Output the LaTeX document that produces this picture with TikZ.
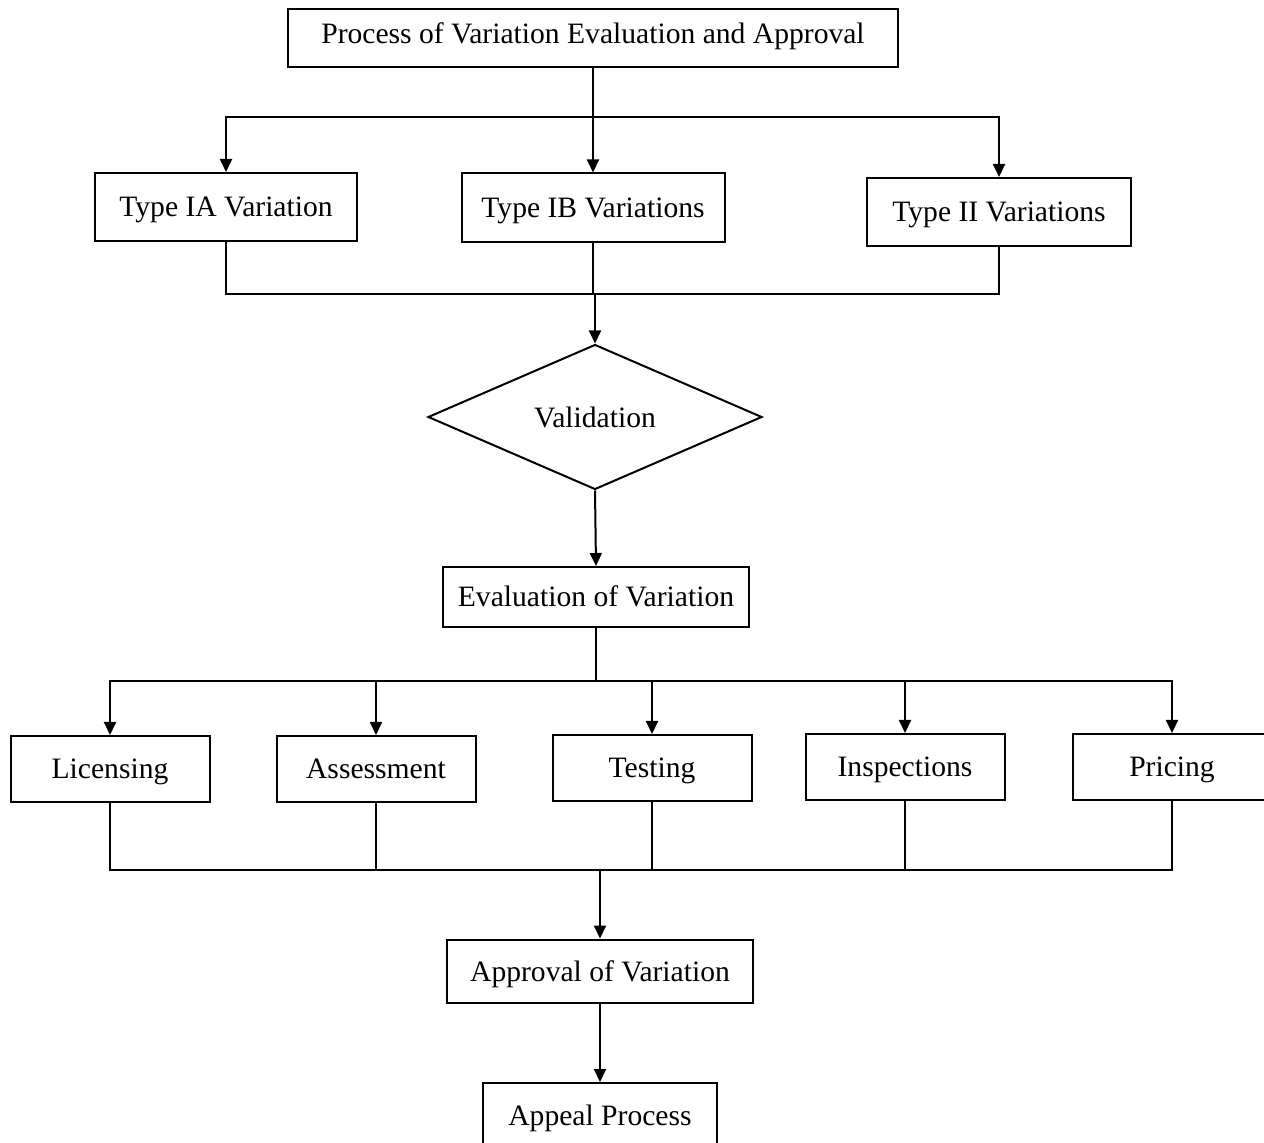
\documentclass[tikz,border=0pt]{standalone}
\usepackage{fontspec}
\setmainfont{Liberation Serif}
\usetikzlibrary{arrows.meta,shapes.geometric}
\begin{document}
\begin{tikzpicture}[x=0.5pt,y=-0.5pt,
  every node/.style={font=\fontsize{14.8pt}{17pt}\selectfont},
  box/.style={draw=black,line width=1pt,rectangle,inner sep=0pt,fill=white,
    text height=13pt,text depth=3pt},
  wbox/.style={box,minimum width=99.5pt,minimum height=33pt},
  decide/.style={draw=black,line width=1pt,diamond,inner sep=0pt,aspect=2.3,
    text height=14pt,text depth=3pt,
    minimum width=167pt,minimum height=72.5pt},
  link/.style={line width=1pt,draw=black},
  arr/.style={link,-{Triangle[length=6.5pt,width=6pt]}}]
  % canvas
  \fill[white] (0,0) rectangle (1264,1143);
  \useasboundingbox (0,0) rectangle (1264,1143);

  % nodes
  \node[box,minimum width=305pt,minimum height=29pt,text height=9pt] (top) at (593,38) {Process of Variation Evaluation and Approval};
  \node[box,minimum width=131pt,minimum height=34pt] (ia) at (226,207) {Type IA Variation};
  \node[box,minimum width=131.5pt,minimum height=34.5pt] (ib) at (593,208) {Type IB Variations};
  \node[box,minimum width=132pt,minimum height=34pt] (ii) at (999,212) {Type II Variations};
  \node[decide] (val) at (595,417) {Validation};
  \node[box,minimum width=153pt,minimum height=30pt] (eval) at (596,597) {Evaluation of Variation};
  \node[wbox] (lic) at (110,769) {Licensing};
  \node[wbox] (ass) at (376,769) {Assessment};
  \node[wbox] (tes) at (652,768) {Testing};
  \node[wbox] (ins) at (905,767) {Inspections};
  \node[wbox] (pri) at (1172,767) {Pricing};
  \node[box,minimum width=153pt,minimum height=31.5pt] (appr) at (600,971) {Approval of Variation};
  \node[box,minimum width=117pt,minimum height=32pt] (appeal) at (600,1115) {Appeal Process};

  % junctions
  \coordinate (j1) at (593,117);
  \coordinate (j2) at (595,294);
  \coordinate (j3) at (596,681);
  \coordinate (j4) at (600,870);

  % top split
  \draw[link,line width=1.4pt] (top.south) -- (j1);
  \draw[arr] (j1) -| (ia.north);
  \draw[arr] (j1) -- (ib.north);
  \draw[arr] (j1) -| (ii.north);

  % merge into validation
  \draw[link] (ia.south) |- (j2) -| (ii.south);
  \draw[link] (ib.south) -- (ib.south |- j2);
  \draw[arr] (j2) -- (val.north);

  \draw[arr] (val.south) -- (eval.north);

  % evaluation split
  \draw[link] (eval.south) -- (j3);
  \draw[arr] (j3) -| (lic.north);
  \draw[arr] (j3) -| (ass.north);
  \draw[arr] (j3) -| (tes.north);
  \draw[arr] (j3) -| (ins.north);
  \draw[arr] (j3) -| (pri.north);

  % merge into approval
  \draw[link] (lic.south) |- (j4) -| (pri.south);
  \draw[link] (ass.south) -- (ass.south |- j4);
  \draw[link] (tes.south) -- (tes.south |- j4);
  \draw[link] (ins.south) -- (ins.south |- j4);
  \draw[arr] (j4) -- (appr.north);

  \draw[arr] (appr.south) -- (appeal.north);
\end{tikzpicture}
\end{document}
